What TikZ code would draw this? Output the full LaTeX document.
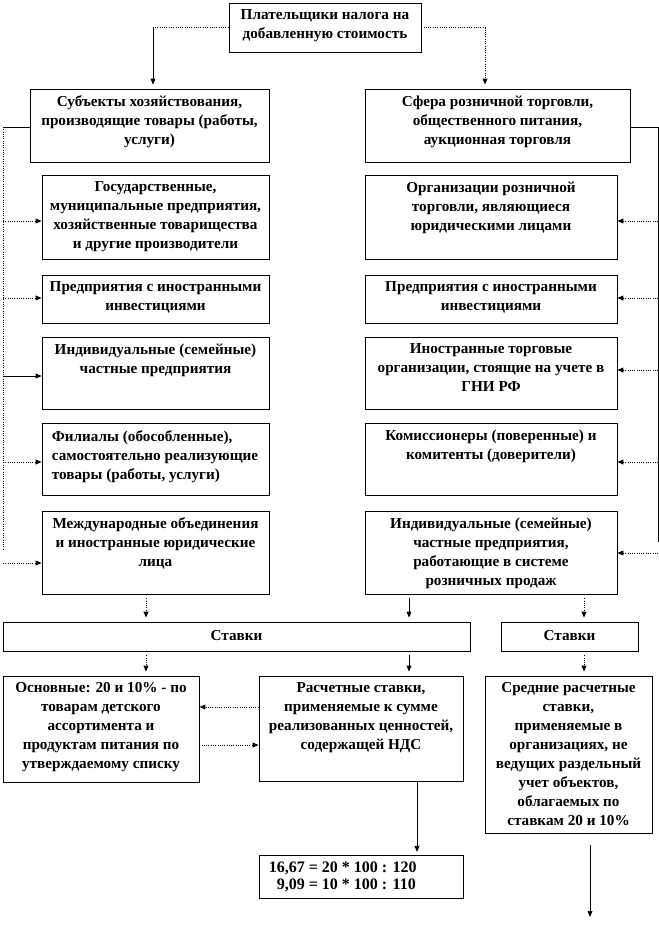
\documentclass[tikz,border=0pt]{standalone}
\usepackage{fontspec}
\setmainfont{Liberation Serif}
\usetikzlibrary{arrows.meta,fit}
\begin{document}
\begin{tikzpicture}[x=0.75pt,y=-0.75pt,
  box/.style={draw, line width=0.6pt, inner sep=0pt},
  txt/.style={font=\bfseries\fontsize{11.4pt}{14.25pt}\selectfont, align=center, inner sep=0pt, anchor=north, execute at begin node={\rule{0pt}{9pt}}},
  ln/.style={line width=0.6pt},
  dl/.style={line width=0.7pt, densely dotted},
  tip/.style={-{Triangle[length=4.5pt,width=3.6pt]}},
]
\useasboundingbox (0,0) rectangle (659,925);

% boxes
\node[box, fit={(229,3) (421,52)}] (top) {};
\node[box, fit={(30,89) (269,162)}] (L0) {};
\node[box, fit={(365,89) (630,162)}] (R0) {};
\node[box, fit={(42,175) (269,259)}] (L1) {};
\node[box, fit={(42,275) (269,323)}] (L2) {};
\node[box, fit={(42,337) (269,409)}] (L3) {};
\node[box, fit={(42,423) (269,495)}] (L4) {};
\node[box, fit={(42,511) (269,594)}] (L5) {};
\node[box, fit={(365,175) (617,259)}] (R1) {};
\node[box, fit={(365,275) (617,323)}] (R2) {};
\node[box, fit={(365,337) (617,409)}] (R3) {};
\node[box, fit={(365,423) (617,495)}] (R4) {};
\node[box, fit={(365,511) (617,594)}] (R5) {};
\node[box, fit={(3,622) (470,651)}] (St1) {};
\node[box, fit={(501,622) (638,651)}] (St2) {};
\node[box, fit={(3,676) (199,782)}] (O) {};
\node[box, fit={(259,676) (463,781)}] (P) {};
\node[box, fit={(485,676) (652,833)}] (S) {};
\node[box, fit={(259,855) (463,898)}] (F) {};

% texts
\node[txt] (topT) at ([yshift=-5.25pt]top.north) {Плательщики налога на\\добавленную стоимость};
\node[txt] (L0T) at ([yshift=-5.25pt]L0.north) {Субъекты хозяйствования,\\производящие товары (работы,\\услуги)};
\node[txt] (R0T) at ([yshift=-5.25pt]R0.north) {Сфера розничной торговли,\\общественного питания,\\аукционная торговля};
\node[txt] (L1T) at ([yshift=-5.25pt]L1.north) {Государственные,\\муниципальные предприятия,\\хозяйственные товарищества\\и другие производители};
\node[txt] (L2T) at ([yshift=-5.25pt]L2.north) {Предприятия с иностранными\\инвестициями};
\node[txt] (L3T) at ([yshift=-5.25pt]L3.north) {Индивидуальные (семейные)\\частные предприятия};
\node[txt, align=left, anchor=north west] (L4T) at ([xshift=7.5pt,yshift=-6pt]L4.north west) {Филиалы (обособленные),\\самостоятельно реализующие\\товары (работы, услуги)};
\node[txt] (L5T) at ([yshift=-5.25pt]L5.north) {Международные объединения\\и иностранные юридические\\лица};
\node[txt] (R1T) at ([yshift=-5.25pt]R1.north) {Организации розничной\\торговли, являющиеся\\юридическими лицами};
\node[txt] (R2T) at ([yshift=-5.25pt]R2.north) {Предприятия с иностранными\\инвестициями};
\node[txt] (R3T) at ([yshift=-5.25pt]R3.north) {Иностранные торговые\\организации, стоящие на учете в\\ГНИ РФ};
\node[txt] (R4T) at ([yshift=-5.25pt]R4.north) {Комиссионеры (поверенные) и\\комитенты (доверители)};
\node[txt] (R5T) at ([yshift=-5.25pt]R5.north) {Индивидуальные (семейные)\\частные предприятия,\\работающие в системе\\розничных продаж};
\node[txt] (St1T) at ([yshift=-5.25pt]St1.north) {Ставки};
\node[txt] (St2T) at ([yshift=-5.25pt]St2.north) {Ставки};
\node[txt] (OT) at ([yshift=-5.25pt]O.north) {Основные: 20 и 10\% - по\\товарам детского\\ассортимента и\\продуктам питания по\\утверждаемому списку};
\node[txt] (PT) at ([yshift=-5.25pt]P.north) {Расчетные ставки,\\применяемые к сумме\\реализованных ценностей,\\содержащей НДС};
\node[txt] (ST) at ([yshift=-5.25pt]S.north) {Средние расчетные\\ставки,\\применяемые в\\организациях, не\\ведущих раздельный\\учет объектов,\\облагаемых по\\ставкам 20 и 10\%};
\node[txt, align=left, anchor=north west, font=\bfseries\fontsize{12pt}{12.75pt}\selectfont] (FT) at ([xshift=7.5pt,yshift=-5.25pt]F.north west) {16,67 = 20 * 100 : 120\\\phantom{1}9,09 = 10 * 100 : 110};

% top connectors
\coordinate (xa) at (153,0);
\coordinate (xb) at (485,0);
\draw[dl] (top.west) -- (top.west -| xa);
\draw[ln,tip,shorten >=3pt] (top.west -| xa) -- (L0.north -| xa);
\draw[dl,tip,shorten >=3pt] (top.east) -| (R0.north -| xb);

% left bus
\coordinate (lb1) at (3,127);
\coordinate (lb2) at (3,550);
\draw[ln] (L0.west |- lb1) -- (lb1);
\draw[dl] (lb1) -- (lb2);
\coordinate (ly1) at (0,221);
\coordinate (ly2) at (0,298);
\coordinate (ly3) at (0,376);
\coordinate (ly4) at (0,462);
\coordinate (ly5) at (0,563);
\draw[dl,tip] (lb1 |- ly1) -- (L1.west |- ly1);
\draw[dl,tip] (lb1 |- ly2) -- (L2.west |- ly2);
\draw[ln,tip] (lb1 |- ly3) -- (L3.west |- ly3);
\draw[dl,tip] (lb1 |- ly4) -- (L4.west |- ly4);
\draw[dl,tip] (lb1 |- ly5) -- (L5.west |- ly5);

% right bus
\coordinate (rb1) at (658,127);
\coordinate (rb2) at (658,542);
\draw[ln] (R0.east |- rb1) -- (rb1) -- (rb2);
\coordinate (ry1) at (0,221);
\coordinate (ry2) at (0,298);
\coordinate (ry3) at (0,370);
\coordinate (ry4) at (0,462);
\coordinate (ry5) at (0,553);
\draw[dl,tip] (rb1 |- ry1) -- (R1.east |- ry1);
\draw[dl,tip] (rb1 |- ry2) -- (R2.east |- ry2);
\draw[dl,tip] (rb1 |- ry3) -- (R3.east |- ry3);
\draw[dl,tip] (rb1 |- ry4) -- (R4.east |- ry4);
\draw[dl,tip] (rb1 |- ry5) -- (R5.east |- ry5);

% to rates
\coordinate (xc) at (146,0);
\coordinate (xd) at (409,0);
\coordinate (xe) at (584,0);
\draw[dl,tip,shorten <=3pt,shorten >=3pt] (L5.south -| xc) -- (St1.north -| xc);
\draw[ln,tip,shorten <=3pt,shorten >=3pt] (R5.south -| xd) -- (St1.north -| xd);
\draw[dl,tip,shorten <=3pt,shorten >=3pt] (R5.south -| xe) -- (St2.north -| xe);
\draw[dl,tip,shorten <=3pt,shorten >=3pt] (St1.south -| xc) -- (O.north -| xc);
\draw[ln,tip,shorten <=3pt,shorten >=3pt] (St1.south -| xd) -- (P.north -| xd);
\draw[dl,tip,shorten <=3pt,shorten >=3pt] (St2.south -| xe) -- (S.north -| xe);

% between O and P
\coordinate (yo1) at (0,707);
\coordinate (yo2) at (0,745);
\draw[dl,tip] (P.west |- yo1) -- (O.east |- yo1);
\draw[dl,tip] (O.east |- yo2) -- (P.west |- yo2);

% P to F, S to free end
\coordinate (xf) at (417,0);
\draw[ln,tip,shorten >=2pt] (P.south -| xf) -- (F.north -| xf);
\coordinate (sEnd) at (590,917);
\draw[ln,tip,shorten <=9pt] (S.south -| sEnd) -- (sEnd);
\end{tikzpicture}
\end{document}
